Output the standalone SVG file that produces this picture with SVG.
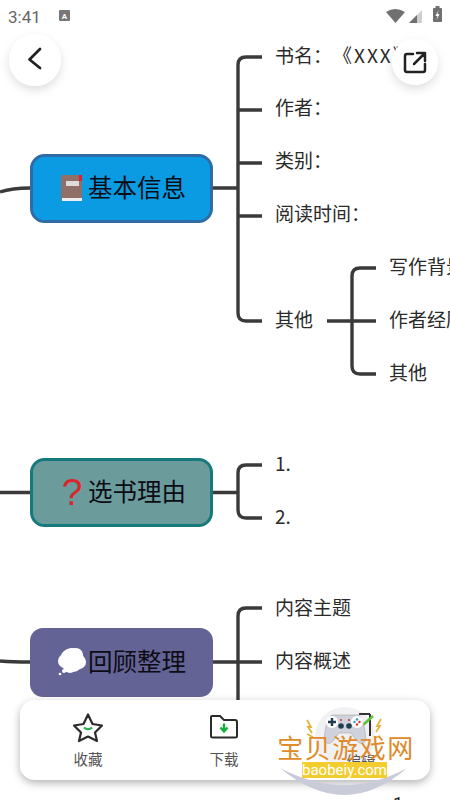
<svg xmlns="http://www.w3.org/2000/svg" width="450" height="800" viewBox="0 0 450 800">
<style>
text{font-family:"Noto Sans CJK SC","Roboto",sans-serif}
.c{fill:none;stroke:#3a3a3a;stroke-width:3.4;stroke-linecap:butt}
.l{font-size:19px;fill:#2a2a2a}
.t{font-size:24.5px;fill:#0c0c14}
.b{font-size:14.500px;fill:#555;text-anchor:middle}
.w{font-size:26px;fill:#e08a2a;text-anchor:middle}
</style>
<defs>
<filter id="s" x="-30%" y="-30%" width="160%" height="170%"><feDropShadow dx="0" dy="4" stdDeviation="5" flood-color="#000" flood-opacity="0.13"/></filter>
<filter id="s2" x="-10%" y="-20%" width="120%" height="150%"><feDropShadow dx="0" dy="3" stdDeviation="4" flood-color="#000" flood-opacity="0.3"/></filter>
</defs>
<rect width="450" height="800" fill="#fff"/>
<g id="connectors">
<path class="c" d="M0 192Q12 188 30 188"/>
<path class="c" d="M213 188H238M262 57H246Q238 57 238 65V313Q238 321 246 321H262M238 110H262M238 163H262M238 216H262"/>
<path class="c" d="M327 321H376M376 268H360Q352 268 352 276V366Q352 374 360 374H376"/>
<path class="c" d="M0 492.500H30M213 492.500H238M262 465H246Q238 465 238 473V510Q238 518 246 518H262"/>
<path class="c" d="M0 661Q12 662 30 662M213 662H262M262 608H246Q238 608 238 616V700"/>
</g>
<g id="node-basic">
<rect x="31.500" y="155.500" width="180" height="66" rx="13" fill="#0a9be2" stroke="#2f6ca6" stroke-width="3"/>
<rect x="61" y="175" width="21" height="26" rx="2" fill="#8f6f68"/><rect x="62" y="198" width="20" height="3" fill="#eee"/><rect x="66" y="181" width="13" height="5" fill="#ddd"/><rect x="79" y="175" width="3" height="6" fill="#e0202a"/>
<text class="t" x="88" y="197">基本信息</text>
</g>
<g id="node-reason">
<rect x="31.500" y="459.500" width="180" height="66" rx="13" fill="#6b9b9b" stroke="#167a7c" stroke-width="3"/>
<text x="72" y="505" font-size="37" fill="#d9262c" text-anchor="middle" style="font-family:'Liberation Sans',sans-serif">?</text>
<text class="t" x="88" y="501">选书理由</text>
</g>
<g id="node-review">
<rect x="30" y="628" width="183" height="69" rx="13" fill="#646395"/>
<g fill="#fff"><circle cx="72" cy="660" r="12"/><circle cx="65" cy="661" r="7"/><circle cx="76" cy="655" r="7"/><circle cx="79" cy="662" r="7"/><circle cx="70" cy="667" r="6"/><circle cx="64" cy="671" r="2"/><circle cx="60" cy="674" r="1.300"/></g>
<text class="t" x="88" y="671">回顾整理</text>
</g>
<g id="labels">
<text class="l" x="275" y="63">书名：</text>
<text class="l" x="333" y="63" style="letter-spacing:2px">《XXX》</text>
<text class="l" x="275" y="115">作者：</text>
<text class="l" x="275" y="168">类别：</text>
<text class="l" x="275" y="221">阅读时间：</text>
<text class="l" x="275" y="327">其他</text>
<text class="l" x="389" y="274">写作背景</text>
<text class="l" x="389" y="327">作者经历</text>
<text class="l" x="389" y="380">其他</text>
<text class="l" x="275" y="471">1.</text>
<text class="l" x="275" y="524">2.</text>
<text class="l" x="275" y="615">内容主题</text>
<text class="l" x="275" y="668">内容概述</text>
</g>
<g id="status-bar">
<text x="8" y="23" font-size="17" fill="#666" style="font-family:Roboto,sans-serif">3:41</text>
<rect x="59" y="10" width="11" height="11" rx="1" fill="#777"/>
<text x="64.500" y="19" font-size="8" font-weight="700" fill="#fff" text-anchor="middle" style="font-family:Roboto,sans-serif">A</text>
<path d="M386 12Q395 6 405 12L395.500 23Z" fill="#707070"/>
<path d="M422 10V23H409Z" fill="#cfcfcf"/><path d="M417 15V23H409Z" fill="#707070"/>
<rect x="433" y="8" width="9" height="14" rx="1" fill="#707070"/><rect x="435.500" y="6" width="4" height="2" fill="#707070"/>
<path d="M438.500 10L435.500 16H437.500L436.500 20L439.500 14H437.500Z" fill="#fff"/>
</g>
<g id="btn-back">
<circle cx="35" cy="60" r="26" fill="#fff" filter="url(#s)"/>
<path d="M40 49L29.500 59.500L40 68" fill="none" stroke="#222" stroke-width="2.800" stroke-linecap="round" stroke-linejoin="round"/>
</g>
<g id="btn-share">
<circle cx="415" cy="62" r="23" fill="#fff" filter="url(#s)"/>
<path d="M413 54H407Q405 54 405 56V70Q405 72 407 72H423Q425 72 425 70V64M417 53H425V61M425 53L414 64" fill="none" stroke="#222" stroke-width="2.500" stroke-linecap="round" stroke-linejoin="round"/>
</g>
<g id="toolbar">
<rect x="20" y="700" width="410" height="80" rx="15" fill="#fff" filter="url(#s2)"/>
<path d="M88 714.500L92.500 724L102 725.500L95 732.500L97 741L88 736.500L79 741L81 732.500L74 725.500L83.500 724Z" fill="none" stroke="#2b2b2b" stroke-width="2.200" stroke-linejoin="round"/>
<path d="M84 727.500Q88 731 92 727.500" fill="none" stroke="#22b04a" stroke-width="2"/>
<text class="b" x="88" y="765">收藏</text>
<path d="M212 716H220L224 720H235Q237 720 237 722V736Q237 737.500 235 737.500H213Q211 737.500 211 736V717Q211 716 212 716Z" fill="none" stroke="#2b2b2b" stroke-width="2"/>
<path d="M224 723.500V730M220.500 727.500L224 731.500L227.500 727.500" fill="none" stroke="#14b040" stroke-width="2.400"/>
<text class="b" x="224" y="765">下载</text>
<circle cx="345" cy="737" r="30" fill="#f1f1f3"/>
<path d="M359 714H370M370 714V736" fill="none" stroke="#333" stroke-width="2"/>
<text class="b" x="361" y="767">编辑</text>
</g>
<text x="393" y="810" font-size="18" fill="#222" style="font-family:Roboto,sans-serif">1</text>
<g id="watermark">
<path d="M280 768Q345 822 407 768Q345 802 280 768Z" fill="#c9ccd8"/>
<path d="M363 725L373 716" stroke="#5bc236" stroke-width="2.500" fill="none"/>
<path d="M332 715H358Q364 717 366 740Q362 747 356 740L351 733H339L334 740Q328 747 324 740Q326 717 332 715Z" fill="#cfd2da" stroke="#aaa" stroke-width="0.600"/>
<circle cx="332" cy="722" r="6" fill="#fff"/><path d="M328 722H336M332 718V726" stroke="#1f3c50" stroke-width="2.400"/>
<circle cx="357" cy="722" r="6" fill="#fff"/><circle cx="354.500" cy="722" r="1.200" fill="#2a9ad0"/><circle cx="359.500" cy="722" r="1.200" fill="#d63030"/><circle cx="357" cy="719.500" r="1.200" fill="#2a9ad0"/><circle cx="357" cy="724.500" r="1.200" fill="#d63030"/>
<circle cx="341" cy="726" r="2.800" fill="#1f3c50"/><circle cx="349" cy="726" r="2.800" fill="#1f3c50"/>
<circle cx="341" cy="720" r="1" fill="#d63030"/><circle cx="349" cy="720" r="1" fill="#d63030"/>
<g fill="none" stroke="#e9b23a" stroke-width="1.800"><path d="M307 720L311 727L308 727L312 733"/><path d="M381 719L377 726L380 726L376 732"/><path d="M307 734L313 737M380 736L374 738"/></g>
<rect x="302" y="762" width="85" height="16" fill="#f3cd30"/>
<text class="w" x="346" y="758" style="letter-spacing:1.500px">宝贝游戏网</text>
<text x="344.500" y="775" font-size="15" fill="#fff" text-anchor="middle" style="font-family:Roboto,sans-serif">baobeiy.com</text>
</g>
</svg>
